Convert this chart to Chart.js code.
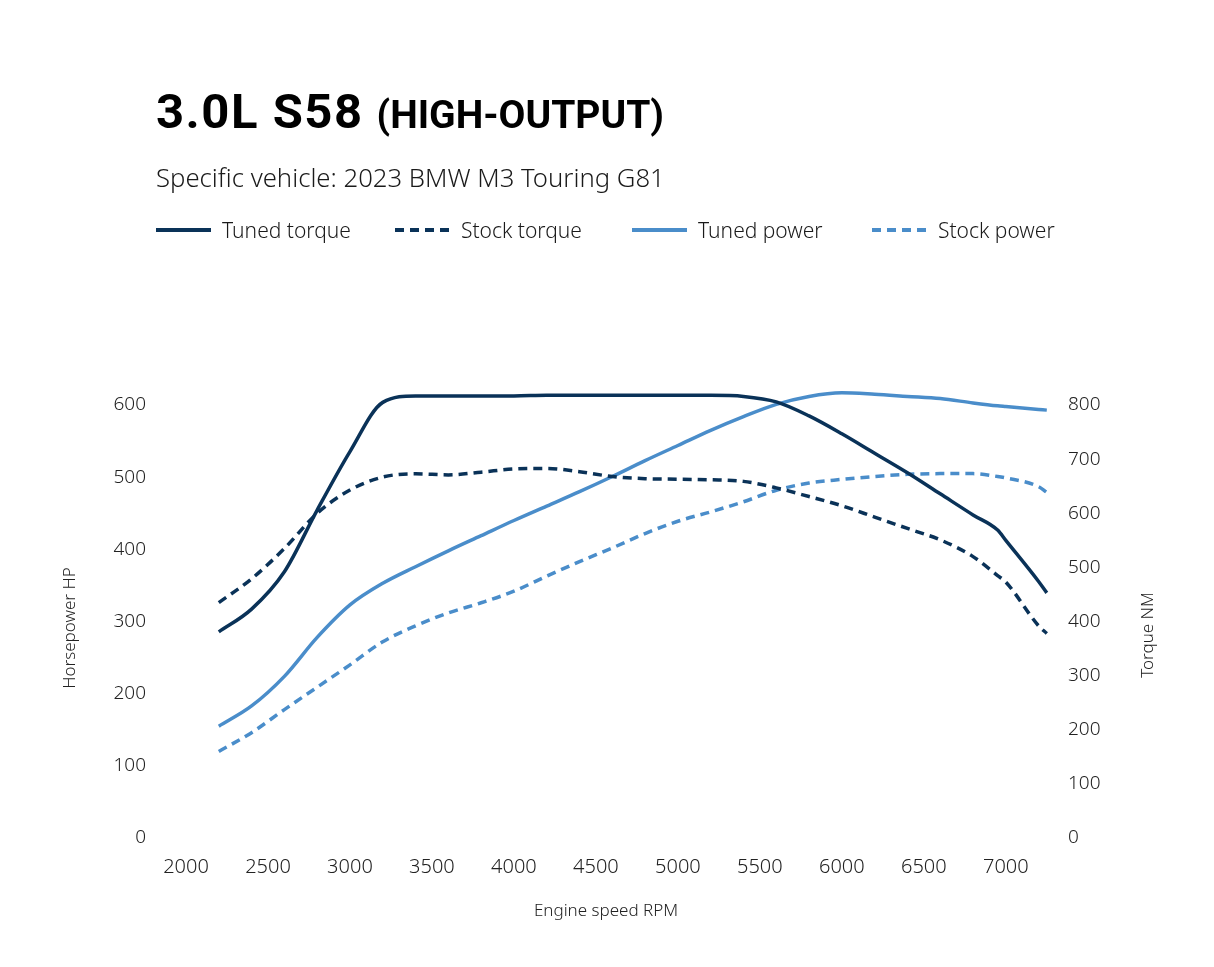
<!DOCTYPE html>
<html>
<head>
<meta charset="utf-8">
<script src="https://cdn.jsdelivr.net/npm/chart.js@4"></script>
<style>
  html, body { margin: 0; padding: 0; background: #fff; }
  #page { position: relative; width: 1214px; height: 967px; overflow: hidden; }
  #chart { position: absolute; left: 0; top: 0; }
  .title { position: absolute; left: 156px; top: 83px; font-family: Roboto, sans-serif; font-weight: 700; color: #000; white-space: nowrap; }
  .title .big { font-size: 49px; letter-spacing: 1.5px; }
  .title .small { font-size: 39px; margin-left: 13px; }
  .subtitle { position: absolute; left: 156px; top: 160px; font-family: "Noto Sans", sans-serif; font-weight: 300; font-size: 25.7px; color: #1a1a1a; white-space: nowrap; }
  #legend { position: absolute; left: 0; top: 216px; height: 30px; width: 1214px; font-family: "Noto Sans", sans-serif; font-weight: 300; font-size: 21px; color: #1a1a1a; white-space: nowrap; }
  #legend .item { position: absolute; top: 0; display: flex; align-items: center; }
  #legend svg { margin-right: 11px; }
</style>
</head>
<body>
<div id="page">
  <canvas id="chart" width="1214" height="967"></canvas>
  <div class="title"><span class="big">3.0L S58</span><span class="small">(HIGH-OUTPUT)</span></div>
  <div class="subtitle">Specific vehicle: 2023 BMW M3 Touring G81</div>
  <div id="legend"></div>
</div>
<script>
// engine speed (rpm)
const rpm = [2200, 2400, 2600, 2800, 3000, 3200, 3400, 3600, 3800, 4000, 4200, 4400, 4600,
             4800, 5000, 5200, 5400, 5600, 5800, 6000, 6200, 6400, 6600, 6800, 6950, 7000, 7200, 7250];

// torque in Nm (right axis)
const tunedTorque = [381, 423, 492, 606, 714, 805, 817, 817, 817, 817, 818, 818, 818,
                     818, 818, 818, 816, 806, 780, 747, 711, 675, 636, 597, 569, 550, 474, 453];
const stockTorque = [435, 479, 535, 600, 643, 667, 673, 671, 676, 682, 683, 677, 668,
                     664, 663, 662, 659, 647, 631, 614, 593, 572, 551, 520, 485, 473, 392, 378];

// power in HP (left axis)
const tunedPower = [155, 183, 224, 278, 323, 353, 376, 398, 419, 440, 460, 480, 501,
                    523, 544, 565, 584, 601, 612, 617, 615, 612, 609, 603, 599, 598, 594, 593];
const stockPower = [120, 146, 178, 209, 240, 272, 294, 312, 326, 342, 363, 383, 402,
                    422, 439, 452, 466, 482, 492, 497, 501, 504, 505, 505, 501, 499, 487, 479];

const seriesNames = ['Tuned torque', 'Stock torque', 'Tuned power', 'Stock power'];
const xTicks = [2000, 2500, 3000, 3500, 4000, 4500, 5000, 5500, 6000, 6500, 7000];
const hpTicks = [0, 100, 200, 300, 400, 500, 600];
const nmTicks = [0, 100, 200, 300, 400, 500, 600, 700, 800];

const DARK = '#0a3258';
const LIGHT = '#4a8dca';
const DASH = [9, 6];

const pts = (vals) => rpm.map((r, i) => ({ x: r, y: vals[i] }));

const datasets = [
  { label: seriesNames[0], data: pts(tunedTorque), yAxisID: 'nm', borderColor: DARK, borderDash: [] },
  { label: seriesNames[1], data: pts(stockTorque), yAxisID: 'nm', borderColor: DARK, borderDash: DASH },
  { label: seriesNames[2], data: pts(tunedPower), yAxisID: 'hp', borderColor: LIGHT, borderDash: [] },
  { label: seriesNames[3], data: pts(stockPower), yAxisID: 'hp', borderColor: LIGHT, borderDash: DASH }
].map(d => Object.assign(d, {
  borderWidth: 3.5,
  pointRadius: 0,
  fill: false,
  cubicInterpolationMode: 'monotone',
  clip: false
}));

// legend as html, one slot per series
const legendLeft = [156, 395, 632, 872];
const legend = document.getElementById('legend');
datasets.forEach((d, i) => {
  const item = document.createElement('div');
  item.className = 'item';
  item.style.left = legendLeft[i] + 'px';
  item.innerHTML = '<svg width="55" height="6"><line x1="0" y1="3" x2="55" y2="3" stroke="' + d.borderColor +
    '" stroke-width="4" stroke-dasharray="' + (d.borderDash.length ? d.borderDash.join(' ') : 'none') + '"/></svg>' +
    '<span>' + d.label + '</span>';
  legend.appendChild(item);
});

const tickFont = { family: '"Noto Sans", sans-serif', size: 19, weight: 300 };

// axis titles (right one reads bottom-to-top like the left one)
const axisTitles = {
  id: 'axisTitles',
  afterDraw(chart) {
    const ctx = chart.ctx;
    const put = (text, x, y, rot) => {
      ctx.save();
      ctx.fillStyle = '#222';
      ctx.font = '300 17px "Noto Sans", sans-serif';
      ctx.textAlign = 'center';
      ctx.textBaseline = 'middle';
      ctx.translate(x, y);
      ctx.rotate(rot);
      ctx.fillText(text, 0, 0);
      ctx.restore();
    };
    put('Engine speed RPM', 606, 911, 0);
    put('Horsepower HP', 70, 628, -Math.PI / 2);
    put('Torque NM', 1148, 635, -Math.PI / 2);
  }
};

new Chart(document.getElementById('chart'), {
  type: 'line',
  data: { datasets },
  plugins: [axisTitles],
  options: {
    responsive: false,
    devicePixelRatio: 1,
    animation: false,
    layout: { padding: { top: 369, left: 0, right: 0, bottom: 0 } },
    plugins: { legend: { display: false }, tooltip: { enabled: false } },
    scales: {
      x: {
        type: 'linear',
        min: 2000,
        max: 7300,
        grid: { display: false, drawTicks: false },
        border: { display: false },
        afterBuildTicks: s => { s.ticks = xTicks.map(v => ({ value: v })); },
        afterFit: s => { s.height = 129; },
        ticks: { font: Object.assign({}, tickFont, { size: 20 }), color: '#222', padding: 17, maxRotation: 0, autoSkip: false,
                 callback: v => String(v) }
      },
      hp: {
        position: 'left',
        min: 0,
        max: 650,
        grid: { display: false, drawTicks: false },
        border: { display: false },
        afterBuildTicks: s => { s.ticks = hpTicks.map(v => ({ value: v })); },
        afterFit: s => { s.width = 186; },
        ticks: { font: tickFont, color: '#222', padding: 40 }
      },
      nm: {
        position: 'right',
        min: 0,
        max: 650 * 4 / 3,
        grid: { display: false, drawTicks: false },
        border: { display: false },
        afterBuildTicks: s => { s.ticks = nmTicks.map(v => ({ value: v })); },
        afterFit: s => { s.width = 159; },
        ticks: { font: tickFont, color: '#222', padding: 13 }
      }
    }
  }
});
</script>
</body>
</html>
